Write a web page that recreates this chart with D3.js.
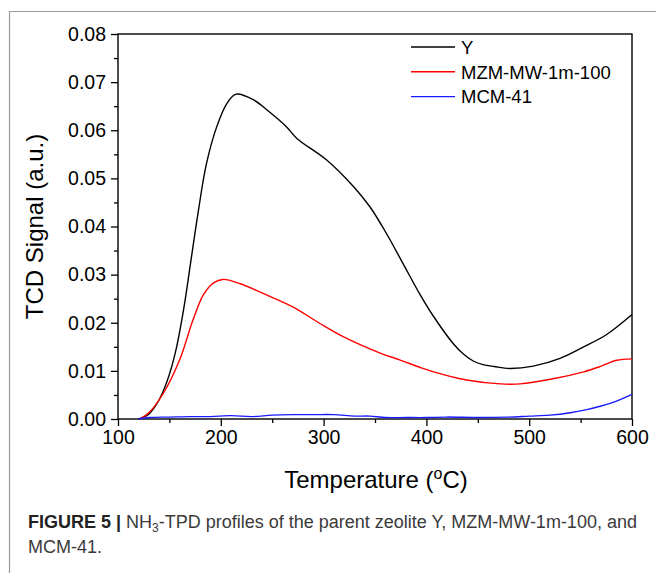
<!DOCTYPE html>
<html>
<head>
<meta charset="utf-8">
<script src="https://cdn.jsdelivr.net/npm/d3@7"></script>
<style>
  body { margin: 0; background: #fff; }
  svg { display: block; font-family: "Liberation Sans", Arial, sans-serif; }
</style>
</head>
<body>
<svg id="chart"></svg>
<script>
// series: [temperature, signal]
const tempY = [120,130,140,148,156,164,171,178,186,196,206,215,232,245,264,274,303,329,345,361,377,394,407,426,436,446,455,466,481,504,530,553,575,600]
const valY  = [0,0.0010,0.0040,0.0080,0.0140,0.0230,0.0330,0.0430,0.0530,0.0607,0.0656,0.0675,0.0663,0.0642,0.0607,0.0583,0.0538,0.0483,0.0441,0.0386,0.0324,0.0258,0.0213,0.0157,0.0135,0.0120,0.0113,0.0109,0.0105,0.0110,0.0126,0.0150,0.0175,0.0217]

const tempMZM = [121,130,144,160,173,183,193,202,219,241,270,296,319,355,374,394,407,439,472,491,522,553,569,585,600]
const valMZM  = [0,0.0013,0.0053,0.0123,0.0206,0.0258,0.0283,0.0290,0.0281,0.0261,0.0233,0.0199,0.0171,0.0137,0.0123,0.0107,0.0098,0.0081,0.0073,0.0073,0.0083,0.0098,0.0109,0.0122,0.0125]

const tempMCM = [120,130,150,170,190,210,230,250,270,290,310,330,345,360,380,400,420,450,480,500,520,540,555,570,585,600]
const valMCM  = [0,0.0003,0.0004,0.0005,0.0005,0.0007,0.0005,0.0008,0.0009,0.0009,0.0009,0.0006,0.0006,0.0003,0.0003,0.0003,0.0004,0.0003,0.0004,0.0006,0.0008,0.0013,0.0019,0.0027,0.0037,0.0051]

const seriesNames = ['Y', 'MZM-MW-1m-100', 'MCM-41']
const seriesColors = ['#000000', '#ff0000', '#1a1aff']

const xTicks = [100, 200, 300, 400, 500, 600]
const yTicks = [0, 0.01, 0.02, 0.03, 0.04, 0.05, 0.06, 0.07, 0.08]

const
    svgWidth = 656,
    svgHeight = 573,
    LEFT = 118,
    RIGHT = 632,
    TOP = 34,
    BOTTOM = 419

let svg = d3.select('#chart')
    .attr('width', svgWidth)
    .attr('height', svgHeight)

// outer figure frame (only left and top are inside the crop)
svg.append('path')
    .attr('d', `M9.5,${svgHeight} V11.5 H${svgWidth}`)
    .attr('fill', 'none')
    .attr('stroke', '#9a9a9a')
    .attr('stroke-width', 1.2)

let x = d3.scaleLinear().domain([100, 600]).range([LEFT, RIGHT])
let y = d3.scaleLinear().domain([0, 0.08]).range([BOTTOM, TOP])

// minor ticks
let xMinor = d3.axisBottom(x).tickValues(d3.range(150, 600, 100)).tickSize(4).tickFormat('')
let yMinor = d3.axisLeft(y).tickValues(d3.range(0.005, 0.08, 0.01)).tickSize(4).tickFormat('')

svg.append('g').attr('transform', `translate(0,${BOTTOM})`).call(xMinor)
svg.append('g').attr('transform', `translate(${LEFT},0)`).call(yMinor)

let xAxis = d3.axisBottom(x).tickValues(xTicks).tickSize(7).tickPadding(4).tickFormat(d3.format('d'))
let yAxis = d3.axisLeft(y).tickValues(yTicks).tickSize(7).tickPadding(5).tickFormat(d3.format('.2f'))

svg.append('g')
    .attr('class', 'xaxis')
    .attr('transform', `translate(0,${BOTTOM})`)
    .call(xAxis)
svg.append('g')
    .attr('class', 'yaxis')
    .attr('transform', `translate(${LEFT},0)`)
    .call(yAxis)

svg.selectAll('.domain').remove()
svg.selectAll('.tick line').attr('stroke', '#000').attr('stroke-width', 1.3)
svg.selectAll('.xaxis text, .yaxis text')
    .attr('fill', '#000')
    .style('font-size', '19.5px')
    .style('font-family', '"Liberation Sans", Arial, sans-serif')

// plot box
svg.append('rect')
    .attr('x', LEFT).attr('y', TOP)
    .attr('width', RIGHT - LEFT).attr('height', BOTTOM - TOP)
    .attr('fill', 'none')
    .attr('stroke', '#000')
    .attr('stroke-width', 1.4)

// curves
const series = [
    tempY.map((t, i) => [t, valY[i]]),
    tempMZM.map((t, i) => [t, valMZM[i]]),
    tempMCM.map((t, i) => [t, valMCM[i]])
]

let line = d3.line()
    .x(d => x(d[0]))
    .y(d => y(d[1]))
    .curve(d3.curveCatmullRom.alpha(0.5))

svg.selectAll('path.curve')
    .data(series)
    .enter()
    .append('path')
        .attr('class', 'curve')
        .attr('d', line)
        .attr('fill', 'none')
        .attr('stroke', (d, i) => seriesColors[i])
        .attr('stroke-width', 1.4)

// legend
let legend = svg.append('g').attr('transform', 'translate(411,47)')
seriesNames.forEach((name, i) => {
    let row = legend.append('g').attr('transform', `translate(0,${i * 24.8})`)
    row.append('line')
        .attr('x1', 0).attr('x2', 44)
        .attr('stroke', seriesColors[i])
        .attr('stroke-width', 1.4)
    row.append('text')
        .attr('x', 50).attr('y', 6.8)
        .style('font-size', '18.5px')
        .text(name)
})

// axis titles
svg.append('text')
    .attr('x', (LEFT + RIGHT) / 2 + 1)
    .attr('y', 488)
    .attr('text-anchor', 'middle')
    .style('font-size', '24px')
    .html('Temperature (<tspan dy="-9" font-size="16px">o</tspan><tspan dy="9">C)</tspan>')

svg.append('text')
    .attr('transform', `translate(43,${(TOP + BOTTOM) / 2}) rotate(-90)`)
    .attr('text-anchor', 'middle')
    .style('font-size', '24px')
    .text('TCD Signal (a.u.)')

// caption
let cap = svg.append('text')
    .attr('x', 28)
    .attr('y', 528)
    .attr('fill', '#3a3a3a')
    .style('font-size', '18px')
    .style('font-family', '"Liberation Sans Narrow", "Liberation Sans", sans-serif')
cap.append('tspan').attr('font-weight', 'bold').attr('fill', '#222').text('FIGURE 5 | ')
cap.append('tspan').text('NH')
cap.append('tspan').attr('dy', 4).attr('font-size', '12px').text('3')
cap.append('tspan').attr('dy', -4).text('-TPD profiles of the parent zeolite Y, MZM-MW-1m-100, and')

svg.append('text')
    .attr('x', 28)
    .attr('y', 553)
    .attr('fill', '#3a3a3a')
    .style('font-size', '18px')
    .style('font-family', '"Liberation Sans Narrow", "Liberation Sans", sans-serif')
    .text('MCM-41.')
</script>
</body>
</html>
